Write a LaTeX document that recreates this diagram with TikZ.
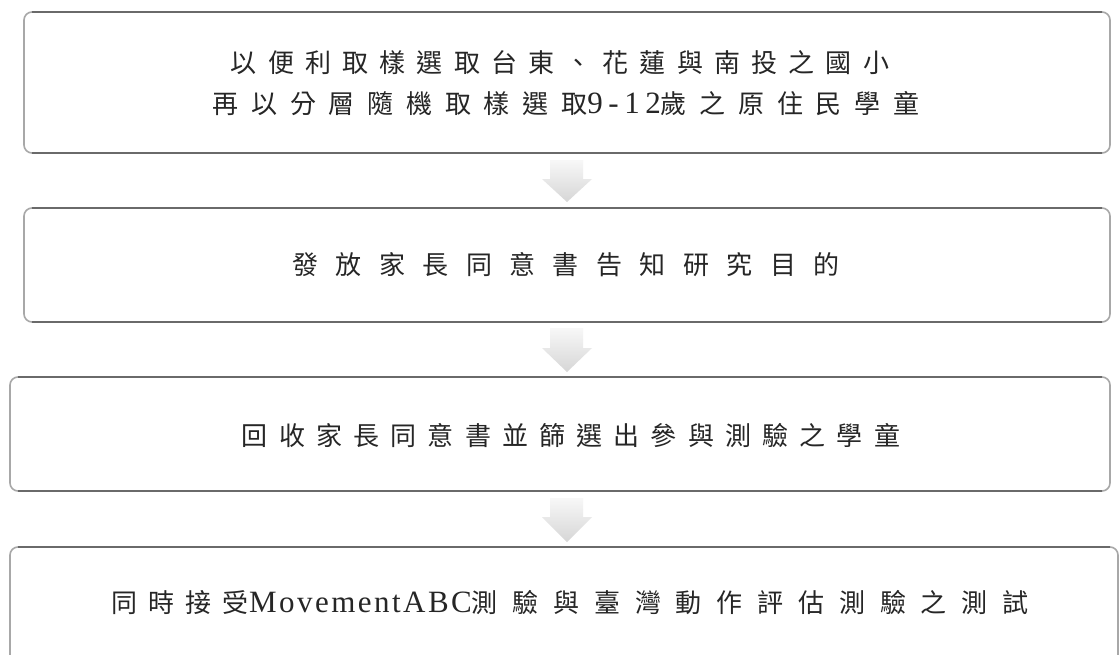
\documentclass[tikz,border=0pt]{standalone}
\usepackage{fontspec}
\setmainfont{Liberation Serif}
\newfontfamily\cjkA[LetterSpace=43]{Noto Sans CJK TC}
\newfontfamily\cjkB[LetterSpace=67]{Noto Sans CJK TC}
\newfontfamily\cjkC[LetterSpace=49]{Noto Sans CJK TC}
\newfontfamily\cjkD[LetterSpace=57]{Noto Sans CJK TC}
\newfontfamily\latA[LetterSpace=18]{Liberation Serif}
\newfontfamily\latB[LetterSpace=8]{Liberation Serif}
\newcommand{\latsize}{\fontsize{31}{41}\selectfont}
\usetikzlibrary{shadings}
\definecolor{sideedge}{HTML}{A8A8A8}
\definecolor{darkedge}{HTML}{6A6A6A}
\tikzset{
  stagebox/.style={draw=sideedge, line width=1.6pt, rounded corners=8pt, fill=white, inner sep=0pt, outer sep=0pt},
  edgeline/.style={draw=darkedge, line width=1.6pt},
  stagetext/.style={font=\fontsize{26}{41}\selectfont, text=black!85, align=center, inner sep=0pt},
  downarrow/.style={top color=gray!6, bottom color=gray!32, draw=none}
}
\newcommand{\blockarrow}[3]{% top y, head y, tip y
  \path[downarrow] (550,#1) -- (583,#1) -- (583,#2) -- (592,#2) -- (567,#3) -- (542,#2) -- (550,#2) -- cycle;
}
\newcommand{\darkedges}[1]{%
  \draw[edgeline] ([xshift=8pt]#1.north west) -- ([xshift=-8pt]#1.north east);
  \draw[edgeline] ([xshift=8pt]#1.south west) -- ([xshift=-8pt]#1.south east);
}
\begin{document}
\begin{tikzpicture}[x=1pt,y=-1pt]
\useasboundingbox (0,0) rectangle (1119,654);
\clip (0,0) rectangle (1119,654);
\fill[white] (0,0) rectangle (1119,654);
\node[stagebox, minimum width=1086pt, minimum height=141pt] (b1) at (567,82.5) {};
\node[stagebox, minimum width=1086pt, minimum height=114pt] (b2) at (567,265) {};
\node[stagebox, minimum width=1100pt, minimum height=114pt] (b3) at (560,434) {};
\node[stagebox, minimum width=1108pt, minimum height=120pt] (b4) at (564,607) {};
\darkedges{b1}
\darkedges{b2}
\darkedges{b3}
\darkedges{b4}
\node[stagetext] (t1a) at (560,63) {{\cjkA 以便利取樣選取台東、花蓮與南投之國小}};
\node[stagetext] (t1b) at (566,104) {{\cjkC 再以分層隨機取樣選取}{\latsize\latA 9-12}{\cjkC 歲之原住民學童}};
\node[stagetext] (t2) at (566,265) {{\cjkB 發放家長同意書告知研究目的}};
\node[stagetext] (t3) at (571,436) {{\cjkA 回收家長同意書並篩選出參與測驗之學童}};
\node[stagetext] (t4) at (570,603) {{\cjkA 同時接受}{\latsize\latB MovementABC}{\cjkD 測驗與臺灣動作評估測驗之測試}};
\blockarrow{160}{179}{202}
\blockarrow{328}{348}{372}
\blockarrow{498}{517}{542}
\end{tikzpicture}
\end{document}
